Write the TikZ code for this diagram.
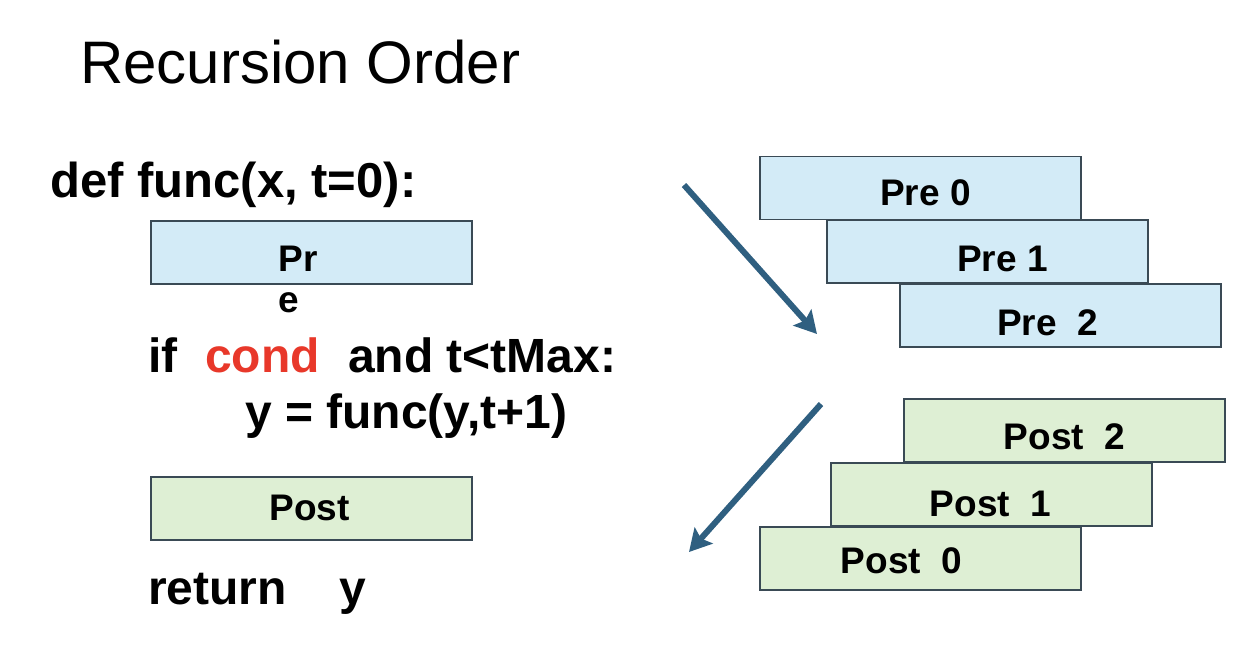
\documentclass[tikz,border=0pt]{standalone}
\usepackage{fontspec}
\setmainfont{Liberation Sans}
\usetikzlibrary{arrows.meta,calc,positioning}

\definecolor{preblue}{HTML}{D3EBF7}
\definecolor{postgreen}{HTML}{DEEFD4}
\definecolor{boxline}{HTML}{3A4A55}
\definecolor{condred}{HTML}{E8382A}
\definecolor{arrowblue}{HTML}{2F5F80}

\tikzset{
  codebox/.style={draw=boxline, line width=1.8pt, minimum width=321pt, minimum height=63pt, inner sep=0pt},
  prebox/.style={codebox, fill=preblue},
  postbox/.style={codebox, fill=postgreen},
  boxtext/.style={anchor=base, inner sep=0pt, font=\fontsize{37}{37}\selectfont\bfseries},
  codetext/.style={anchor=base west, inner sep=0pt, font=\fontsize{48}{48}\selectfont\bfseries},
  steparrow/.style={draw=arrowblue, line width=6pt, -{Stealth[length=22pt,width=24pt,inset=4pt]}},
}

\begin{document}
\begin{tikzpicture}[x=1pt,y=-1pt]
	\useasboundingbox (0,0) rectangle (1243,650);
	%
	\node[anchor=base west, inner sep=0pt, font=\fontsize{60}{60}\selectfont] (title) at (80,84) {Recursion Order};
	%
	\node[codetext, font=\fontsize{49}{49}\selectfont\bfseries] (def) at (50,197) {def func(x, t=0):};
	\node[prebox] (lpre) at (311.5,252.5) {};
	\node[boxtext] (lpretxt) at ($(lpre.center)+(-13,19)$) {Pr};
	\node[boxtext] (lpree) at ($(lpre.center)+(-23,60)$) {e};
	\node[codetext] (if) at (148,372) {if};
	\node[codetext, text=condred] (cond) at (205,372) {cond};
	\node[codetext] (and) at (348,372) {and t<tMax:};
	\node[codetext] (call) at (245,428) {y = func(y,t+1)};
	\node[postbox] (lpost) at (311.5,508.5) {};
	\node[boxtext] (lposttxt) at ($(lpost.center)+(-2,12)$) {Post};
	\node[codetext] (ret) at (148,604) {return};
	\node[codetext] (rety) at (339,604) {y};
	%
	\node[prebox] (pre0) at (920.5,188) {};
	\node[prebox] (pre1) at (987.5,251.5) {};
	\node[prebox] (pre2) at (1060.5,315.5) {};
	\node[boxtext] at ($(pre0.center)+(5,18)$) {Pre 0};
	\node[boxtext] at ($(pre1.center)+(15,20)$) {Pre 1};
	\node[boxtext] at ($(pre2.center)+(-13,20)$) {Pre\ \ 2};
	%
	\node[postbox] (post2) at (1064.5,430.5) {};
	\node[postbox] (post1) at (991.5,494.5) {};
	\node[postbox] (post0) at (920.5,558.5) {};
	\node[boxtext] at ($(post2.center)+(0,19)$) {Post\ \ 2};
	\node[boxtext] at ($(post1.center)+(-1,22)$) {Post\ \ 1};
	\node[boxtext] at ($(post0.center)+(-19,15)$) {Post\ \ 0};
	%
	\coordinate (down0) at (684,185);
	\coordinate (down1) at (817,334);
	\coordinate (up0) at (821,404);
	\coordinate (up1) at (689,552);
	\draw[steparrow] (down0) -- (down1);
	\draw[steparrow] (up0) -- (up1);
\end{tikzpicture}
\end{document}
